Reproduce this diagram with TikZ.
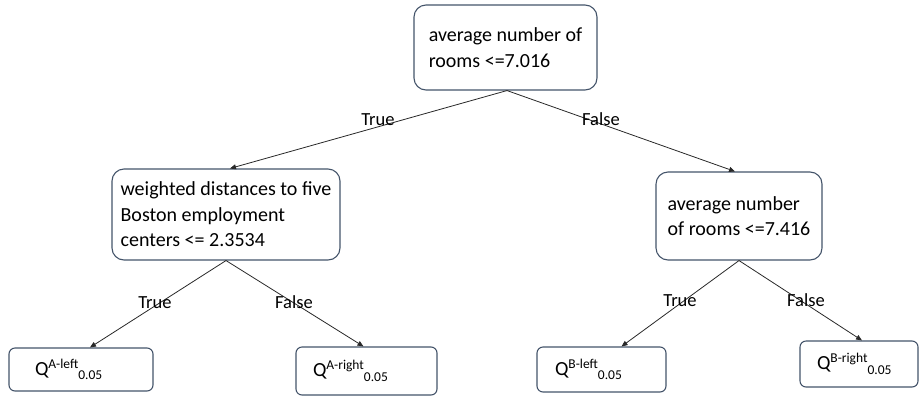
\documentclass[tikz,border=0pt]{standalone}
\usepackage{fontspec}
\setmainfont{Carlito}
\usetikzlibrary{arrows.meta}
\definecolor{boxline}{RGB}{68,84,106}
\definecolor{edgeline}{RGB}{40,40,40}
\newcommand{\leafq}[1]{Q{\fontsize{13.5}{14}\selectfont\raisebox{7pt}{#1}\raisebox{-4.5pt}{0.05}}}
\begin{document}
\begin{tikzpicture}[x=1pt,y=-1pt,
  splitbox/.style={draw=boxline, line width=1.1pt, rounded corners=12pt, align=left,
    inner sep=0pt, font=\fontsize{20}{25.5}\selectfont},
  leafbox/.style={draw=boxline, line width=1.1pt, rounded corners=6pt, align=left,
    inner sep=0pt, font=\fontsize{20}{24}\selectfont},
  edgelbl/.style={font=\fontsize{18.5}{22}\selectfont, inner sep=0pt},
  conn/.style={draw=edgeline, line width=0.8pt, -{Stealth[length=6pt,width=5pt,inset=0pt]}}]
\useasboundingbox (0,0) rectangle (920,397);

\node[splitbox, minimum width=183, minimum height=85] (root) at (505.5,47.5)
  {average number of\\rooms <=7.016};
\node[splitbox, minimum width=228, minimum height=91] (mid1) at (226,214.5)
  {weighted distances to five\\Boston employment\\centers <= 2.3534};
\node[splitbox, minimum width=166, minimum height=88] (mid2) at (739,216)
  {average number\\of rooms <=7.416};

\node[leafbox, minimum width=144, minimum height=43, text width=92] (al) at (81,369.5) {\leafq{A-left}};
\node[leafbox, minimum width=141, minimum height=48, text width=107] (ar) at (366.5,371) {\leafq{A-right}};
\node[leafbox, minimum width=129, minimum height=45, text width=93] (bl) at (601.5,369.5) {\leafq{B-left}};
\node[leafbox, minimum width=118, minimum height=46, text width=84] (br) at (859,364) {\leafq{B-right}};

\draw[conn] ([xshift=1.5pt]root.south) -- ([xshift=4pt]mid1.north);
\draw[conn] ([xshift=1.5pt]root.south) -- ([xshift=-4pt]mid2.north);
\draw[conn] (mid1.south) -- ([xshift=9pt]al.north);
\draw[conn] (mid1.south) -- ([xshift=-3pt]ar.north);
\draw[conn] (mid2.south) -- ([xshift=20pt]bl.north);
\draw[conn] (mid2.south) -- ([xshift=3pt]br.north);

\node[edgelbl] (t0) at (378,120) {True};
\node[edgelbl] (f0) at (601,119) {False};
\node[edgelbl] (t1) at (155,303) {True};
\node[edgelbl] (f1) at (294,302) {False};
\node[edgelbl] (t2) at (680,301) {True};
\node[edgelbl] (f2) at (806,300) {False};
\end{tikzpicture}
\end{document}
